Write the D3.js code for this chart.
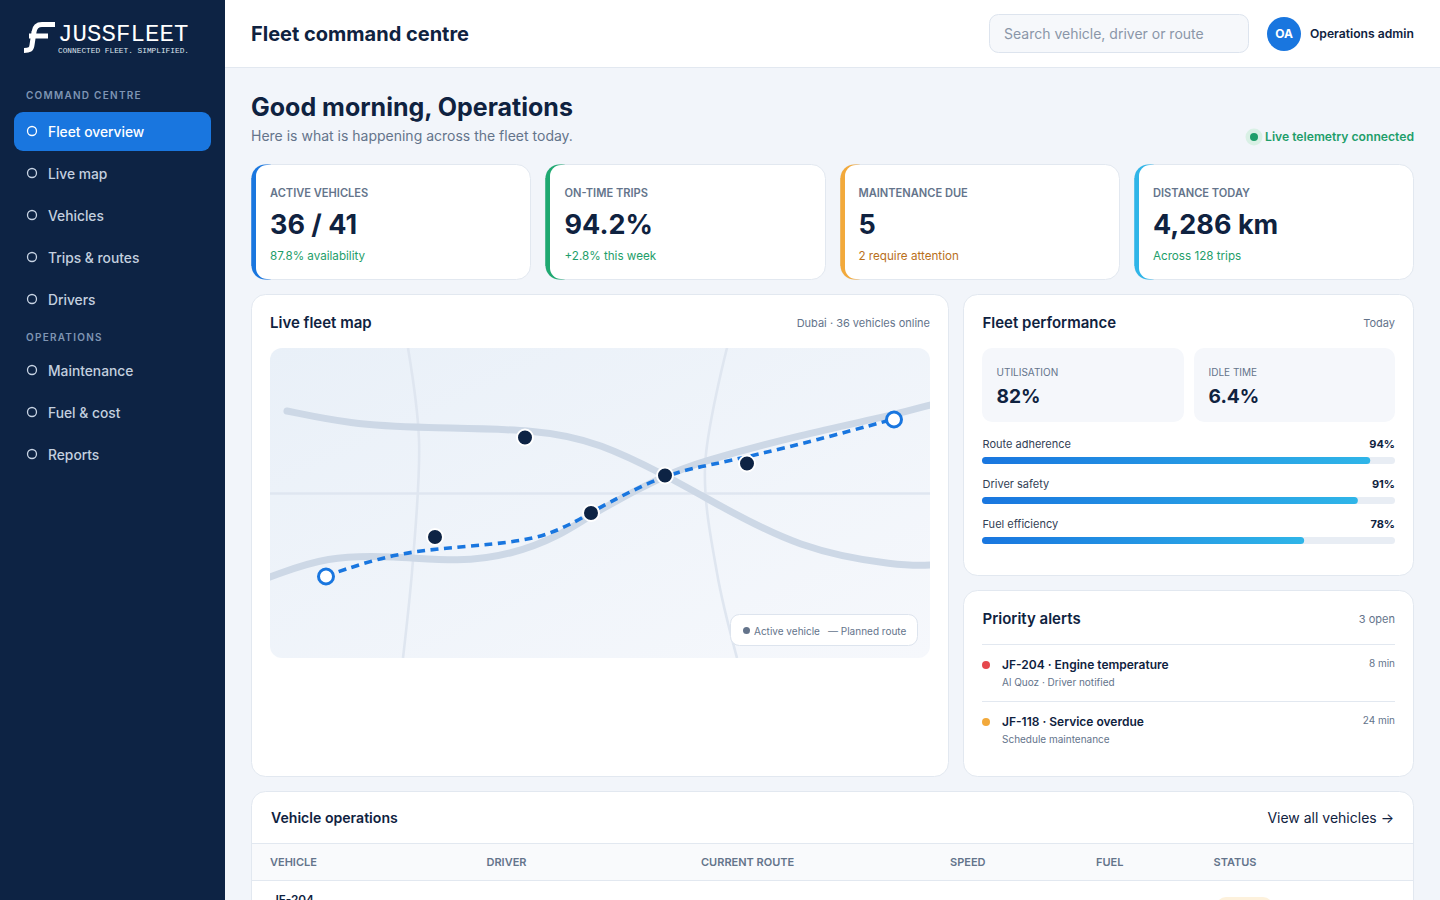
<!DOCTYPE html>
<html><head><meta charset="utf-8">
<script src="https://cdn.jsdelivr.net/npm/d3@7/dist/d3.min.js"></script>
<style>
html,body{margin:0;padding:0;background:#f2f5fa;overflow:hidden}
svg{display:block;font-family:Inter,"Noto Sans",sans-serif}
</style></head><body><svg id="c" width="1440" height="900"></svg>
<script>
const navCommand=["Fleet overview","Live map","Vehicles","Trips & routes","Drivers"];
const navOperations=["Maintenance","Fuel & cost","Reports"];
const kpiLabels=["ACTIVE VEHICLES","ON-TIME TRIPS","MAINTENANCE DUE","DISTANCE TODAY"];
const kpiValues=["36 / 41","94.2%","5","4,286 km"];
const kpiNotes=["87.8% availability","+2.8% this week","2 require attention","Across 128 trips"];
const kpiColors=["#1976df","#1fa971","#f2a93b","#2fb5e8"];
const kpiNoteColors=["#1e9e6a","#1e9e6a","#b9701c","#1e9e6a"];
const perfLabels=["Route adherence","Driver safety","Fuel efficiency"];
const perfValues=[94,91,78];
const statLabels=["UTILISATION","IDLE TIME"];
const statValues=["82%","6.4%"];
const alertTitles=["JF-204 · Engine temperature","JF-118 · Service overdue"];
const alertSubs=["Al Quoz · Driver notified","Schedule maintenance"];
const alertTimes=["8 min","24 min"];
const alertColors=["#e5484d","#f2a93b"];
const tableHeads=["VEHICLE","DRIVER","CURRENT ROUTE","SPEED","FUEL","STATUS"];
// map data, in map units (660 x 310)
const roadA=[[17,63],[80,76],[150,80],[270,81],[330,95],[395,127],[436,150],[530,202],[630,218],[660,217]];
const roadB=[[0,229],[57,208],[123,208],[190,214],[240,207],[290,188],[323,165],[395,127],[430,114],[530,87],[624,67],[660,57]];
const roadC=[[138,0],[149,92],[143,212],[133,310]];
const roadD=[[457,0],[435,119],[447,225],[467,310]];
const roadE=[[0,145.5],[660,145.5]];
const plannedRoute=[[56,228],[123,205],[190,199],[257,193],[290,182],[321,165],[332,158],[395,126],[440,117],[490,106],[543,93],[624,71]];
const vehicles=[[255,89.5],[165,189],[321,165],[395,127.5],[477,115.5]];
const routeEnds=[[56,228.5],[624,71.5]];

const svg=d3.select("#c");
const defs=svg.append("defs");
function grad(id,x2,y2,stops){const g=defs.append("linearGradient").attr("id",id).attr("x1",0).attr("y1",0).attr("x2",x2).attr("y2",y2);
 stops.forEach((s,i)=>g.append("stop").attr("offset",i/(stops.length-1)).attr("stop-color",s));}
grad("mapBg",1,1,["#e9f0f8","#f6f8fc"]);
grad("bar",1,0,["#1976df","#2fb5e8"]);
defs.append("clipPath").attr("id","mapClip").append("rect").attr("x",270).attr("y",348).attr("width",660).attr("height",310).attr("rx",12);

function T(x,y,s,size,weight,fill,o={}){const e=svg.append("text").attr("x",x).attr("y",y).text(s).attr("font-size",size).attr("font-weight",weight).attr("fill",fill);
 if(o.anchor)e.attr("text-anchor",o.anchor);if(o.ls)e.attr("letter-spacing",o.ls);if(o.family)e.attr("font-family",o.family);return e;}
function R(x,y,w,h,rx,fill,stroke){const e=svg.append("rect").attr("x",x).attr("y",y).attr("width",w).attr("height",h).attr("rx",rx).attr("fill",fill);
 if(stroke)e.attr("stroke",stroke).attr("stroke-width",1);return e;}

// sidebar
R(0,0,225,900,0,"#0d2344");
svg.append("path").attr("d","M55 24.5 H42 C36 24.5 34.5 28 34 32 L32 45 C31.5 49.5 29.5 50.5 24 50.5 M29 36 H48").attr("fill","none").attr("stroke","#fff").attr("stroke-width",5);
T(58,41,"JUSSFLEET",24,400,"#fff",{family:"'Liberation Mono',monospace",ls:"0.1"});
T(58,52.5,"CONNECTED FLEET. SIMPLIFIED.",7.8,400,"#dfe5ee",{family:"'Liberation Mono',monospace"});
T(26,99,"COMMAND CENTRE",10,600,"#7f95b3",{ls:"1.25"});
R(14,112,197,39,9,"#1976df");
function nav(labels,y0,active){labels.forEach((l,i)=>{const y=y0+i*42;
 svg.append("circle").attr("cx",32).attr("cy",y-1).attr("r",4.5).attr("fill","none").attr("stroke",i===active?"#fff":"#c8d4e4").attr("stroke-width",1.3);
 T(48,y+5,l,13.8,500,i===active?"#fff":"#c3cfdf");});}
nav(navCommand,132,0);
T(26,341,"OPERATIONS",10,600,"#7f95b3",{ls:"1.25"});
nav(navOperations,371,-1);

// header
R(225,0,1215,67.5,0,"#fff");
svg.append("line").attr("x1",225).attr("x2",1440).attr("y1",67.5).attr("y2",67.5).attr("stroke","#e2e8f0");
T(251,41,"Fleet command centre",20,700,"#0f2240");
R(989.5,14.5,259,38,9,"#f6f8fb","#dde4ee");
T(1004,39,"Search vehicle, driver or route",14,400,"#8a96a8");
svg.append("circle").attr("cx",1284).attr("cy",34).attr("r",17).attr("fill","#1976df");
T(1284,38,"OA",12,700,"#fff",{anchor:"middle"});
T(1310,38,"Operations admin",12.15,600,"#0f2240");

// welcome
T(251,116,"Good morning, Operations",25,700,"#0f2240");
T(251,141,"Here is what is happening across the fleet today.",14,400,"#64748b");
svg.append("circle").attr("cx",1254).attr("cy",137).attr("r",8.5).attr("fill","#d9f0e5");
svg.append("circle").attr("cx",1254).attr("cy",137).attr("r",4).attr("fill","#1e9e6a");
T(1414,141,"Live telemetry connected",12.15,600,"#1e9e6a",{anchor:"end"});

// kpi cards
const kpiX=[251.5,545.5,840.5,1134.5],kpiW=[279,280,279,279],kpiTextX=[270,564.5,858.5,1153];
kpiLabels.forEach((l,i)=>{const x=kpiX[i],w=kpiW[i],tx=kpiTextX[i];
 R(x,164.5,w,115,14,"#fff","#e2e8f0");
 R(x,164.5,30,115,14,kpiColors[i]);
 R(x+4.5,165,40,114,11,"#fff");
 svg.append("path").attr("d",`M${x+20} 164.5 H${x+50} M${x+20} 279.5 H${x+50}`).attr("stroke","#e2e8f0").attr("fill","none");
 R(x,178,4.5,88,0,kpiColors[i]);
 T(tx,197,l,11.1,600,"#64748b");
 T(tx,234,kpiValues[i],27,700,"#0f2240");
 T(tx,260,kpiNotes[i],11.65,400,kpiNoteColors[i]);
});

// panels
function panel(x,y,w,h){R(x,y,w,h,14,"#fff","#e2e8f0");}
panel(251.5,294.5,697,482);panel(963.5,294.5,450,281);panel(963.5,590.5,450,186);panel(251.5,791.5,1162,140);

// map
T(270,328,"Live fleet map",15,600,"#0f2240");
T(930,327,"Dubai · 36 vehicles online",11,400,"#64748b",{anchor:"end"});
const mx=d3.scaleLinear().domain([0,660]).range([270,930]);
const my=d3.scaleLinear().domain([0,310]).range([348,658]);
const map=svg.append("g").attr("clip-path","url(#mapClip)");
map.append("rect").attr("x",mx(0)).attr("y",my(0)).attr("width",mx(660)-mx(0)).attr("height",my(310)-my(0)).attr("fill","url(#mapBg)");
const curve=d3.line().x(d=>mx(d[0])).y(d=>my(d[1])).curve(d3.curveCatmullRom.alpha(.5));
const smooth=d3.line().x(d=>mx(d[0])).y(d=>my(d[1])).curve(d3.curveBasis);
[roadC,roadD,roadE].forEach(r=>map.append("path").attr("d",curve(r)).attr("fill","none").attr("stroke","#dfe6f0").attr("stroke-width",2.6));
[roadA,roadB].forEach(r=>map.append("path").attr("d",smooth(r)).attr("fill","none").attr("stroke","#cdd8e6").attr("stroke-width",7).attr("stroke-linecap","round"));
map.append("path").attr("d",smooth(plannedRoute)).attr("fill","none").attr("stroke","#1976df").attr("stroke-width",3.6).attr("stroke-dasharray","8 5.5");
map.selectAll(".v").data(vehicles).join("circle").attr("class","v").attr("cx",d=>mx(d[0])).attr("cy",d=>my(d[1])).attr("r",8).attr("fill","#0d2344").attr("stroke","#fff").attr("stroke-width",2);
map.selectAll(".e").data(routeEnds).join("circle").attr("class","e").attr("cx",d=>mx(d[0])).attr("cy",d=>my(d[1])).attr("r",7.5).attr("fill","#fff").attr("stroke","#1976df").attr("stroke-width",3);
R(730.5,614.5,187,31,9,"#fff","#dde4ee");
svg.append("circle").attr("cx",746.5).attr("cy",630.5).attr("r",3.5).attr("fill","#64748b");
T(754,634.5,"Active vehicle",10,400,"#64748b");
T(828,634.5,"— Planned route",10,400,"#64748b");

// performance
T(982.5,328,"Fleet performance",15,600,"#0f2240");
T(1395,327,"Today",11,400,"#64748b",{anchor:"end"});
[982,1194].forEach((x,i)=>{R(x,348,i?201:202,74,10,"#f5f7fb");
 T(x+14.5,376,statLabels[i],10,400,"#64748b");
 T(x+14.5,402.5,statValues[i],19.2,700,"#0f2240");});
const barX=d3.scaleLinear().domain([0,100]).range([982,1395]);
perfLabels.forEach((l,i)=>{const y=440+i*40;
 T(982.5,y+8,l,11,400,"#334155");
 T(1395,y+8,perfValues[i]+"%",11,700,"#0f2240",{anchor:"end"});
 R(barX(0),y+17,barX(100)-barX(0),7,3.5,"#e8edf4");
 R(barX(0),y+17,barX(perfValues[i])-barX(0),7,3.5,"url(#bar)");
});

// alerts
T(982.5,624,"Priority alerts",15,600,"#0f2240");
T(1395,623,"3 open",11,400,"#64748b",{anchor:"end"});
alertTitles.forEach((a,i)=>{const y=644+i*57;
 svg.append("line").attr("x1",982).attr("x2",1395).attr("y1",y+.5).attr("y2",y+.5).attr("stroke","#e2e8f0");
 svg.append("circle").attr("cx",986).attr("cy",y+21).attr("r",4).attr("fill",alertColors[i]);
 T(1002,y+25,a,12,600,"#0f2240");
 T(1002,y+42,alertSubs[i],10,400,"#64748b");
 T(1395,y+23,alertTimes[i],10,400,"#64748b",{anchor:"end"});
});

// table
T(271,823,"Vehicle operations",14.1,600,"#0f2240");
T(1394,823,"View all vehicles →",14,400,"#0f2240",{anchor:"end"});
R(252,844,1161,36.5,0,"#f9fafc");
[843.5,880.5].forEach(y=>svg.append("line").attr("x1",252).attr("x2",1413).attr("y1",y).attr("y2",y).attr("stroke","#e2e8f0"));
const headX=[270,486.5,701,950,1096,1213.5];
tableHeads.forEach((h,i)=>T(headX[i],866,h,11,600,"#64748b"));
T(272,904,"JF-204",11.8,600,"#0f2240");
R(1216,897,57,20,10,"#fdf1dc");
</script></body></html>
